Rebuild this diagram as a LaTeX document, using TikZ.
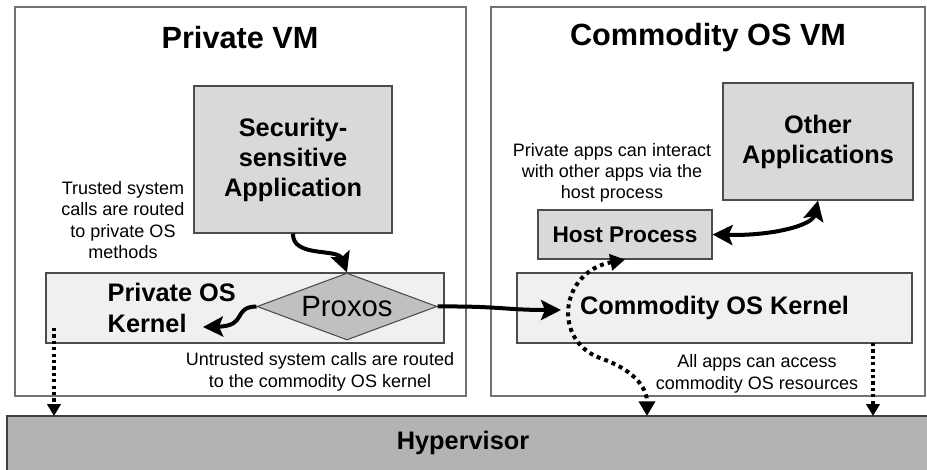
\documentclass[tikz,border=0pt]{standalone}
\usepackage{fontspec}
\setmainfont{Liberation Sans}
\usepackage{xcolor}
\usepackage{tikz}
\usetikzlibrary{arrows.meta,shapes.geometric}

\definecolor{appgray}{HTML}{D9D9D9}
\definecolor{kerngray}{HTML}{F0F0F0}
\definecolor{proxgray}{HTML}{C0C0C0}
\definecolor{hypgray}{HTML}{B3B3B3}

\tikzset{
  vmbox/.style={draw=black!55, line width=0.8pt, fill=white},
  appbox/.style={draw=black!70, line width=0.8pt, fill=appgray, align=center},
  kernbox/.style={draw=black!70, line width=0.8pt, fill=kerngray},
  bigbold/.style={font=\bfseries\fontsize{19}{22.5}\selectfont},
  titletext/.style={font=\bfseries\fontsize{23}{26}\selectfont},
  notetext/.style={font=\fontsize{13.5}{16}\selectfont, align=center},
  calltip/.tip={Stealth[length=15pt,width=15pt,inset=3pt]},
  callarrow/.style={line width=3pt, -calltip},
  accessdots/.style={line width=3pt, dash pattern=on 3pt off 3pt, {Triangle[length=11pt,width=12pt]}-{Triangle[length=11pt,width=12pt]}},
  resdots/.style={line width=2.4pt, dash pattern=on 2.4pt off 2.4pt, -{Triangle[length=9pt,width=10pt]}}
}

\begin{document}
\begin{tikzpicture}[x=0.75pt, y=-0.75pt]
    \useasboundingbox (0,0) rectangle (927,470);
    \clip (0,0) rectangle (927,470);
    % the two virtual machines and the hypervisor underneath
    \node[vmbox, minimum width=338.25pt, minimum height=291.75pt] (privvm) at (240.5,201.5) {};
    \node[vmbox, minimum width=325.5pt, minimum height=291.75pt] (comvm) at (708,201.5) {};
    \node[draw=black!75, line width=0.8pt, fill=hypgray, minimum width=699.75pt, minimum height=55.5pt] (hyp) at (473.5,453) {};
    \node[bigbold] (hyplabel) at (463,443) {Hypervisor};
    \node[titletext] (privtitle) at (240,38) {Private VM};
    \node[titletext] (comtitle) at (708,38) {Commodity OS VM};

    % applications
    \node[appbox, bigbold, minimum width=148.5pt, minimum height=110.25pt] (secapp) at (293,159.5) {Security-\\sensitive\\Application};
    \node[appbox, bigbold, minimum width=142.5pt, minimum height=87.75pt] (otherapp) at (818,141.5) {Other\\Applications};
    \node[appbox, font=\bfseries\fontsize{17}{20}\selectfont, minimum width=130.5pt, minimum height=36.75pt] (hostproc) at (625,234.5) {Host Process};

    % kernels
    \node[kernbox, minimum width=298.5pt, minimum height=52.5pt] (privkern) at (245,308) {};
    \node[font=\bfseries\fontsize{19}{23.5}\selectfont, align=left, anchor=west] (privkernlabel) at (103,308) {Private OS\\Kernel};
    \node[kernbox, bigbold, minimum width=296.25pt, minimum height=52.5pt] (comkern) at (714.5,308) {Commodity OS Kernel};
    \node[diamond, draw=black!70, line width=0.8pt, fill=proxgray, shape aspect=2.7, inner sep=0pt,
          minimum width=135pt, minimum height=50.25pt, font=\fontsize{22}{24}\selectfont] (proxos) at (347,306.5) {Proxos};

    % notes
    \node[notetext] (trustednote) at (123,220) {Trusted system\\calls are routed\\to private OS\\methods};
    \node[notetext] (untrustednote) at (320,372) {Untrusted system calls are routed\\to the commodity OS kernel};
    \node[notetext] (interactnote) at (612,173) {Private apps can interact\\with other apps via the\\host process};
    \node[notetext] (accessnote) at (757,374) {All apps can access\\commodity OS resources};

    % free ends of the connectors
    \coordinate (kernin) at (203,327);
    \coordinate (comin) at (561,310);
    \coordinate (hypin) at (647,416);
    \coordinate (privout) at (54,328);
    \coordinate (privhyp) at (54,416);
    \coordinate (comout) at (873,343);
    \coordinate (comhyp) at (873,416);

    % system call routing
    \draw[callarrow] (secapp.south) .. controls (292,258) and (338,248) .. (proxos.north);
    \draw[callarrow] (proxos.west) .. controls (232,307) and (248,326) .. (kernin);
    \draw[callarrow] (proxos.east) .. controls (500,306) and (505,310) .. (comin);
    \draw[callarrow, calltip-calltip]
        (hostproc.east) .. controls (770,236) and (812,226) .. (otherapp.south);

    % access to resources
    \draw[accessdots] (hostproc.south) .. controls (560,272) and (552,340) .. (600,358)
        .. controls (640,372) and (647,392) .. (hypin);
    \draw[resdots] (privout) -- (privhyp);
    \draw[resdots] (comout) -- (comhyp);
\end{tikzpicture}
\end{document}
